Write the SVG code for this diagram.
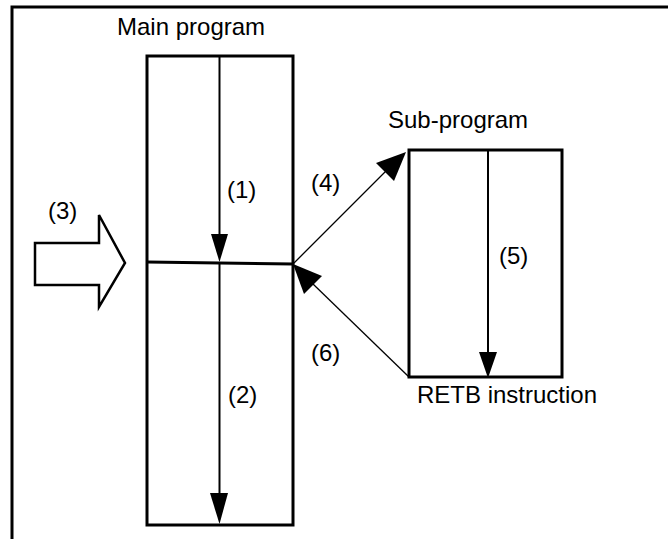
<svg xmlns="http://www.w3.org/2000/svg" width="668" height="539" viewBox="0 0 668 539">
<style>
.box{fill:none;stroke:#000;stroke-width:3}
.ln{stroke:#000;stroke-width:2;fill:none}
.thin{stroke:#000;stroke-width:1.3;fill:none}
.hd{fill:#000;stroke:none}
text{font-family:"Liberation Sans",Arial,sans-serif;font-size:24px;fill:#000}
</style>
<rect width="668" height="539" fill="#fff"/>
<g id="frame"><path d="M12 539 V7 H668" fill="none" stroke="#000" stroke-width="3"/></g>
<g id="main-program">
<rect class="box" x="147" y="56" width="146" height="469"/>
<text x="117" y="35">Main program</text>
</g>
<g id="sub-program">
<rect class="box" x="409" y="150" width="153" height="227"/>
<text x="388" y="128">Sub-program</text>
<text x="417" y="403">RETB instruction</text>
</g>
<g id="interrupt-arrow">
<polygon points="35,243 99,243 99,215 125,263 99,307 99,285 35,285" fill="#fff" stroke="#000" stroke-width="2.5" stroke-linejoin="miter"/>
<text x="48" y="219">(3)</text>
</g>
<g id="connectors">
<line class="ln" x1="219.5" y1="56" x2="219.5" y2="236"/>
<polygon class="hd" points="211,234 228,234 219.5,262"/>
<line class="box" x1="147" y1="262" x2="293" y2="264" stroke="#000"/>
<line class="ln" x1="219.5" y1="263" x2="219.5" y2="495"/>
<polygon class="hd" points="210,493 228,493 219.5,524"/>
<line class="ln" x1="488" y1="150" x2="488" y2="354"/>
<polygon class="hd" points="479,352 497,352 488,378"/>
<line class="thin" x1="293" y1="264" x2="386" y2="171"/>
<polygon class="hd" points="406,152 394,181 376,163"/>
<line class="thin" x1="409" y1="377" x2="313" y2="284"/>
<polygon class="hd" points="293,264 322,276 304,294"/>
</g>
<g id="labels">
<text x="227" y="198">(1)</text>
<text x="228" y="403">(2)</text>
<text x="311" y="191">(4)</text>
<text x="499" y="264">(5)</text>
<text x="311" y="361">(6)</text>
</g>
</svg>
